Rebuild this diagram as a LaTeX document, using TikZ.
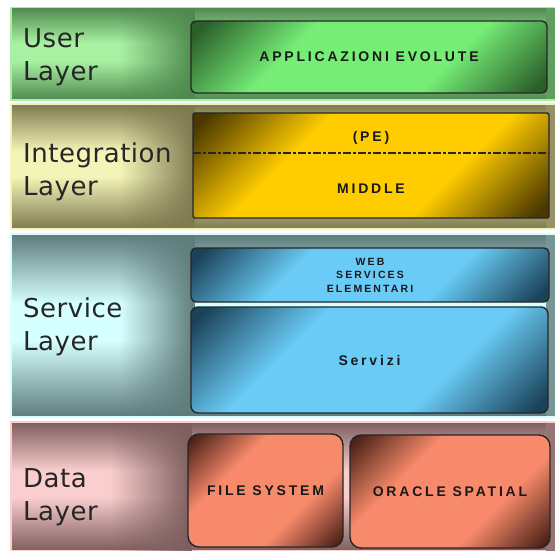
\documentclass[tikz,border=0pt]{standalone}
\usepackage{fontspec}
\usetikzlibrary{fadings}

\newfontfamily\layerfont{DejaVu Sans}[LetterSpace=2]
\newfontfamily\boxfont{Liberation Sans}[LetterSpace=20]

% band colours
\definecolor{userlight}{HTML}{A8F0A2}
\definecolor{userdark}{HTML}{4E8A4E}
\definecolor{intlight}{HTML}{F4F4B8}
\definecolor{intdark}{HTML}{7E7A50}
\definecolor{servlight}{HTML}{D6FFFF}
\definecolor{servdark}{HTML}{5E7C7C}
\definecolor{datalight}{HTML}{FACECE}
\definecolor{datadark}{HTML}{7E5E5E}
% box colours
\definecolor{applight}{HTML}{76EE76}
\definecolor{appdark}{HTML}{2A5E2A}
\definecolor{midlight}{HTML}{FFCC00}
\definecolor{middark}{HTML}{4A3800}
\definecolor{wslight}{HTML}{6ACCF6}
\definecolor{wsdark}{HTML}{1A4258}
\definecolor{dblight}{HTML}{F88A6C}
\definecolor{dbdark}{HTML}{4E2418}

\colorlet{banddark}{black}
\colorlet{bandlight}{white}
\colorlet{boxdark}{black}
\colorlet{boxlight}{white}
\pgfdeclareverticalshading[banddark,bandlight]{bandshade}{100bp}{color(0bp)=(banddark); color(25bp)=(banddark); color(46bp)=(bandlight); color(56bp)=(bandlight); color(75bp)=(banddark); color(100bp)=(banddark)}
\pgfdeclareverticalshading[boxdark,boxlight]{boxshade}{100bp}{color(0bp)=(boxdark); color(17bp)=(boxdark); color(36bp)=(boxlight); color(64bp)=(boxlight); color(83bp)=(boxdark); color(100bp)=(boxdark)}

\tikzfading[name=fade tobox, left color=transparent!100, right color=transparent!0]

\tikzset{
  band/.style 2 args={/utils/exec={\colorlet{banddark}{#1}\colorlet{bandlight}{#2}}, shade, shading=bandshade, draw=#2, line width=1.2},
  layerlabel/.style={anchor=west, align=left, inner sep=0pt, text=black!85, font=\layerfont\fontsize{26}{33}\selectfont},
  layerbox/.style 2 args={/utils/exec={\colorlet{boxdark}{#1}\colorlet{boxlight}{#2}}, shade, shading=boxshade, shading angle=45, draw=black!85, line width=1.4, inner sep=0pt, text=black!90, font=\boxfont\bfseries\fontsize{14}{16}\selectfont},
  boxtext/.style={inner sep=0pt, text=black!90, font=\boxfont\bfseries\fontsize{14}{16}\selectfont}
}

\begin{document}
\begin{tikzpicture}[x=1pt,y=-1pt]
\useasboundingbox (0,0) rectangle (555,551);
\fill[white] (0,0) rectangle (555,551);

% bands
\path[band={userdark}{userlight}] (11,7.5) rectangle (555,100);
\path[band={intdark}{intlight}] (11,104) rectangle (555,229);
\path[band={servdark}{servlight}] (11,234) rectangle (555,417);
\path[band={datadark}{datalight}] (11,422) rectangle (555,551);

% darker towards the boxes
\fill[userdark, path fading=fade tobox] (120,8.5) rectangle (195,99);
\fill[intdark, path fading=fade tobox] (120,105) rectangle (195,228);
\fill[servdark, path fading=fade tobox] (120,235) rectangle (195,416);
\fill[datadark, path fading=fade tobox] (110,423) rectangle (192,551);
\fill[userdark!80!userlight] (546,8.5) rectangle (555,99);
\fill[intdark!80!intlight] (546,105) rectangle (555,228);
\fill[servdark!80!servlight] (546,235) rectangle (555,416);
\fill[datadark!80!datalight] (546,423) rectangle (555,551);

% layer names
\node[layerlabel] (userlbl) at (23,57) {User\\Layer};
\node[layerlabel] (intlbl) at (23,172) {Integration\\Layer};
\node[layerlabel] (servlbl) at (23,327) {Service\\Layer};
\node[layerlabel] (datalbl) at (23,497) {Data\\Layer};

% user layer
\node[layerbox={appdark}{applight}, rounded corners=5, minimum width=356, minimum height=72] (appl) at (369,57) {APPLICAZIONI EVOLUTE};

% integration layer
\node[layerbox={middark}{midlight}, rounded corners=2, minimum width=356, minimum height=105] (midbox) at (371,165.5) {};
\node[boxtext] (pe) at (371,138) {(PE)};
\node[boxtext] (middle) at (371,189) {MIDDLE};
\coordinate (dashl) at (193,153);
\coordinate (dashr) at (549,153);
\draw[black!85, line width=1.6, dash pattern=on 8pt off 2pt on 3pt off 2pt] (dashl) -- (dashr);

% service layer
\node[layerbox={wsdark}{wslight}, rounded corners=5, minimum width=358, minimum height=54, align=center, font=\boxfont\bfseries\fontsize{10.5}{13.5}\selectfont] (websvc) at (370,275) {WEB\\SERVICES\\ELEMENTARI};
\node[layerbox={wsdark}{wslight}, rounded corners=7, minimum width=357, minimum height=106] (servizi) at (369.5,360) {Servizi};

% data layer
\node[layerbox={dbdark}{dblight}, rounded corners=11, minimum width=155, minimum height=113] (filesys) at (265.5,490.5) {FILE SYSTEM};
\node[layerbox={dbdark}{dblight}, rounded corners=11, minimum width=200, minimum height=113] (oracle) at (450,491.5) {ORACLE SPATIAL};

\end{tikzpicture}
\end{document}
